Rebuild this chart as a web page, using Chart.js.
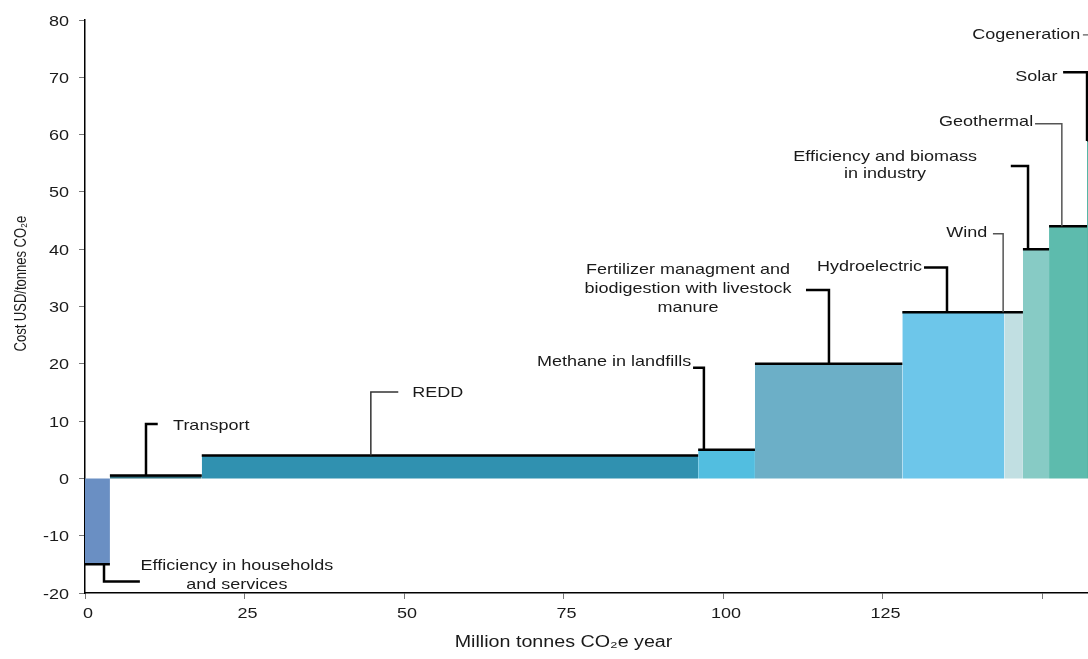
<!DOCTYPE html>
<html><head><meta charset="utf-8">
<script src="https://cdn.jsdelivr.net/npm/chart.js@4/dist/chart.umd.min.js"></script>
<style>html,body{margin:0;padding:0;background:#fff}#wrap{width:1088px;height:659px;position:relative}</style>
</head><body><div id="wrap"><canvas id="c"></canvas></div>
<script>
// ---- data ----
const categories = ["Efficiency in households and services","Transport","REDD","Methane in landfills",
  "Fertilizer managment and biodigestion with livestock manure","Hydroelectric","Wind",
  "Efficiency and biomass in industry","Geothermal","Solar"];
const volumes = [3.9, 14.4, 77.8, 8.9, 23.1, 16.0, 2.9, 4.1, 5.95, 6.0];   // Million tonnes CO2e / year
const costs   = [-15, 0.5, 4, 5, 20, 29, 29, 40, 44, 59];                  // USD / tonne CO2e
const xTickValues = [0, 25, 50, 75, 100, 125, 150];
const xTickLabels = ["0", "25", "50", "75", "100", "125", ""];
const yTickValues = [-20, -10, 0, 10, 20, 30, 40, 50, 60, 70, 80];
const yTickLabels = ["-20", "-10", "0", "10", "20", "30", "40", "50", "60", "70", "80"];

// ---- styles ----
const barColors = ["#6a8fc3","#2e6e7d","#3091b0","#52bee0","#6cafc7","#6dc6ea","#c1dfe2","#87cbc5","#5dbbad","#4fb3a3"];
const FONT = "'Liberation Sans', Arial, sans-serif";
const TEXT = '#1a1a1a';
const STRETCH = 1.2;   // reference text is horizontally stretched

// cumulative starts
const starts = [], ends = [];
let acc = 0;
volumes.forEach(v => { starts.push(acc); acc += v; ends.push(acc); });

const datasets = categories.map((name, i) => ({
  label: name,
  data: [{x: starts[i], y: 0}, {x: starts[i], y: costs[i]}, {x: ends[i], y: costs[i]}, {x: ends[i], y: 0}],
  showLine: true, fill: 'origin', backgroundColor: barColors[i], borderWidth: 0,
  pointRadius: 0, order: 2
}));
const tops = [];
categories.forEach((n, i) => { tops.push({x: starts[i], y: costs[i]}, {x: ends[i], y: costs[i]}, {x: ends[i], y: null}); });
datasets.push({label: 'tops', data: tops, showLine: true, fill: false, borderColor: '#000', borderWidth: 2.5,
  pointRadius: 0, spanGaps: false, order: 1});

// ---- callout annotations (data units) ----
const callouts = [
  {text: ["Efficiency in households", "and services"], align: 'center', x: 23.8, y: [-15.2, -18.6],
   path: [[2.98, -15], [2.98, -18.0], [8.6, -18.0]], color: '#000', w: 2.5},
  {text: ["Transport"], align: 'left', x: 13.8, y: [9.2],
   path: [[9.56, 0.5], [9.56, 9.5], [11.4, 9.5]], color: '#000', w: 2.5},
  {text: ["REDD"], align: 'left', x: 51.3, y: [14.9],
   path: [[44.8, 4], [44.8, 15.1], [49.1, 15.1]], color: '#333', w: 1.5},
  {text: ["Methane in landfills"], align: 'right', x: 95.0, y: [20.4],
   path: [[97.0, 5], [97.0, 19.3], [95.3, 19.3]], color: '#000', w: 2.5},
  {text: ["Fertilizer managment and", "biodigestion with livestock", "manure"], align: 'center', x: 94.5, y: [36.4, 33.1, 29.8],
   path: [[116.6, 20], [116.6, 32.9], [113.0, 32.9]], color: '#000', w: 2.5},
  {text: ["Hydroelectric"], align: 'right', x: 131.2, y: [36.9],
   path: [[135.1, 29], [135.1, 36.8], [131.5, 36.8]], color: '#000', w: 2.5},
  {text: ["Wind"], align: 'right', x: 141.4, y: [42.9],
   path: [[143.9, 29], [143.9, 42.7], [142.3, 42.7]], color: '#555', w: 1.5},
  {text: ["Efficiency and biomass", "in industry"], align: 'center', x: 125.4, y: [56.1, 53.2],
   path: [[147.8, 40], [147.8, 54.5], [145.1, 54.5]], color: '#000', w: 2.5},
  {text: ["Geothermal"], align: 'right', x: 148.6, y: [62.2],
   path: [[153.1, 44], [153.1, 61.9], [148.9, 61.9]], color: '#555', w: 1.5},
  {text: ["Solar"], align: 'right', x: 152.4, y: [70.1],
   path: [[153.3, 70.9], [157.05, 70.9], [157.05, 58.9]], color: '#000', w: 2.5},
  {text: ["Cogeneration"], align: 'right', x: 156.0, y: [77.4],
   path: [[156.4, 77.4], [158.0, 77.4]], color: '#555', w: 1.2}
];

function stretchedText(ctx, t, px, py, align, baseline, font, s) {
  ctx.save();
  ctx.translate(px, py); ctx.scale(s, 1);
  ctx.font = font; ctx.textAlign = align; ctx.textBaseline = baseline; ctx.fillStyle = TEXT;
  ctx.fillText(t, 0, 0);
  ctx.restore();
}

const calloutPlugin = {
  id: 'callouts',
  afterDraw(chart) {
    const {ctx, scales: {x, y}} = chart;
    ctx.save();
    callouts.forEach(c => {
      ctx.strokeStyle = c.color; ctx.lineWidth = c.w; ctx.lineCap = 'butt'; ctx.lineJoin = 'miter';
      ctx.beginPath();
      c.path.forEach((p, k) => {
        const px = x.getPixelForValue(p[0]), py = y.getPixelForValue(p[1]);
        if (k === 0) ctx.moveTo(px, py); else ctx.lineTo(px, py);
      });
      ctx.stroke();
      c.text.forEach((t, k) => stretchedText(ctx, t, x.getPixelForValue(c.x), y.getPixelForValue(c.y[k]),
        c.align, 'middle', '15px ' + FONT, STRETCH));
    });
    // tick labels
    xTickValues.forEach((v, i) => stretchedText(ctx, xTickLabels[i], x.getPixelForValue(v) + 3, x.top + 25,
      'center', 'alphabetic', '15px ' + FONT, STRETCH));
    yTickValues.forEach((v, i) => stretchedText(ctx, yTickLabels[i], y.right - 16, y.getPixelForValue(v) + 5.5,
      'right', 'alphabetic', '15px ' + FONT, STRETCH));
    // axis titles
    stretchedText(ctx, 'Million tonnes CO\u2082e year', x.getPixelForValue(75), 647, 'center', 'alphabetic',
      '16px ' + FONT, 1.23);
    ctx.save();
    ctx.translate(22, y.getPixelForValue(34)); ctx.rotate(-Math.PI / 2); ctx.scale(1, 1.2);
    ctx.font = '13px ' + FONT; ctx.textAlign = 'center'; ctx.textBaseline = 'middle'; ctx.fillStyle = TEXT;
    ctx.fillText('Cost USD/tonnes CO\u2082e', 0, 0);
    ctx.restore();
    ctx.restore();
  }
};

new Chart(document.getElementById('c'), {
  type: 'scatter',
  data: {datasets},
  options: {
    responsive: true, maintainAspectRatio: false, animation: false,
    layout: {padding: {top: 20, right: 0, left: 0, bottom: 0}},
    plugins: {legend: {display: false}, tooltip: {enabled: false}},
    scales: {
      x: {
        type: 'linear', min: 0, max: 157.2,
        afterBuildTicks: s => { s.ticks = xTickValues.map(v => ({value: v})); },
        afterFit: s => { s.height = 66; },
        ticks: {display: false},
        grid: {drawOnChartArea: false, drawTicks: true, tickLength: 6, color: '#777', lineWidth: 1},
        border: {display: true, color: '#000', width: 1.5}
      },
      y: {
        min: -20, max: 80,
        afterBuildTicks: s => { s.ticks = yTickValues.map(v => ({value: v})); },
        afterFit: s => { s.width = 85; },
        ticks: {display: false},
        grid: {drawOnChartArea: false, drawTicks: true, tickLength: 6, color: '#777', lineWidth: 1},
        border: {display: true, color: '#000', width: 1.5}
      }
    }
  },
  plugins: [calloutPlugin]
});
</script></body></html>
